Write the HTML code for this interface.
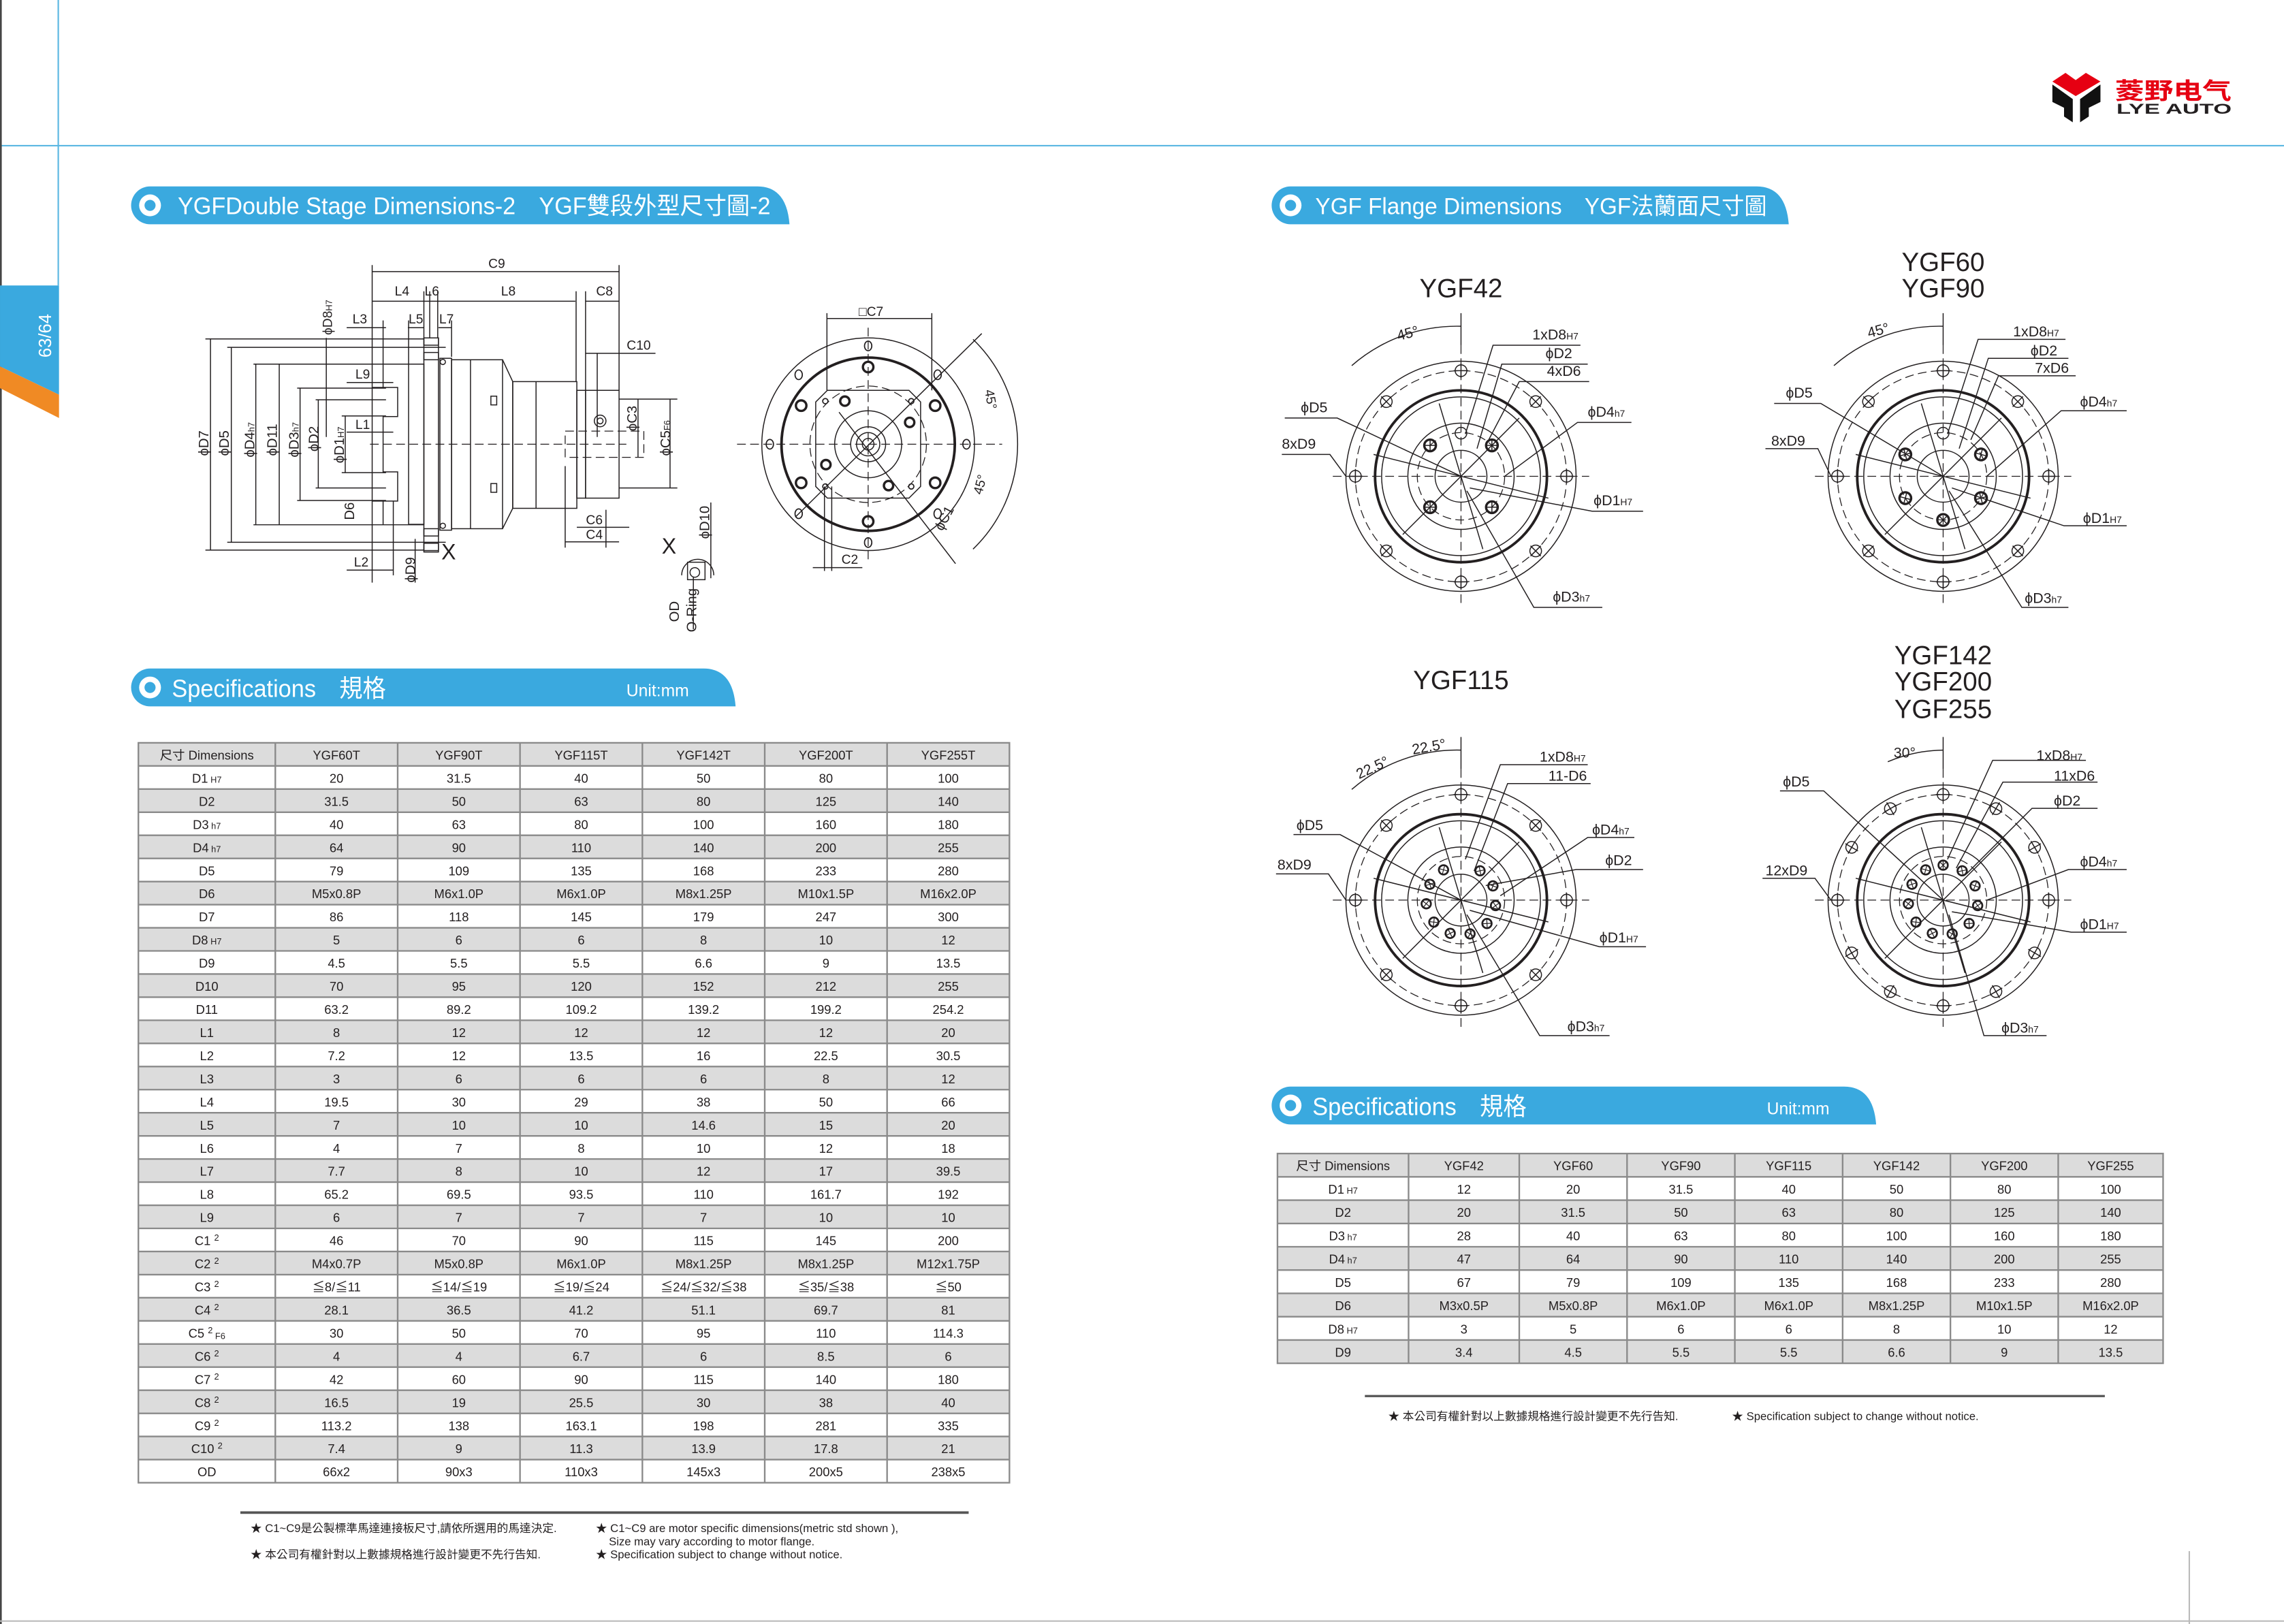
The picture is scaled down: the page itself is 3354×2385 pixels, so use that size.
<!DOCTYPE html>
<html><head><meta charset="utf-8"><style>
html,body{margin:0;padding:0;background:#fff;}
svg{display:block;}
text{font-family:"Liberation Sans","Noto Sans CJK TC",sans-serif;fill:#231f20;}
.t{font-size:8.6px;text-anchor:middle;}
.w{fill:#fff;}
.d{font-size:9px;}
.ln{stroke:#231f20;stroke-width:0.7;fill:none;}
.dash{stroke:#231f20;stroke-width:0.6;fill:none;stroke-dasharray:6 3;}
.thk{stroke:#231f20;stroke-width:1.8;fill:none;}
</style></head><body>
<svg width="3354" height="2385" viewBox="0 0 1568 1115" xmlns="http://www.w3.org/2000/svg">
<defs>
<pattern id="hat" width="3" height="3" patternUnits="userSpaceOnUse" patternTransform="rotate(45)"><line x1="0" y1="0" x2="0" y2="3" stroke="#231f20" stroke-width="0.6"/></pattern>
<g id="oh"><circle cx="0" cy="-72.5" r="4" class="ln" stroke-width="0.9"/><line x1="-5" y1="-72.5" x2="5" y2="-72.5" class="ln"/><line x1="0" y1="-77.5" x2="0" y2="-67.5" class="ln"/></g>
<g id="ih"><circle cx="0" cy="-30" r="4" fill="none" stroke="#231f20" stroke-width="1.6"/><line x1="-2.8" y1="-32.8" x2="2.8" y2="-27.2" class="ln"/><line x1="2.8" y1="-32.8" x2="-2.8" y2="-27.2" class="ln"/></g>
<g id="fb">
<circle r="79" class="ln" stroke-width="0.8"/>
<circle r="72.5" class="dash"/>
<circle r="59" class="thk" stroke-width="1.6"/>
<circle r="54.5" class="ln" stroke-width="1.1"/>
<circle r="36.5" class="ln" stroke-width="0.9"/>
<circle r="30" class="dash"/>
<circle r="17.8" class="ln" stroke-width="0.9"/>
<line x1="-88" y1="0" x2="88" y2="0" class="dash"/>
<line x1="0" y1="-90" x2="0" y2="88" class="dash"/>
<line x1="-60" y1="-15" x2="60" y2="15" class="ln" stroke-width="0.5"/>
<line x1="-40" y1="40" x2="40" y2="-40" class="ln" stroke-width="0.5"/>
<line x1="-15" y1="-50" x2="15" y2="50" class="ln" stroke-width="0.5"/>
</g>
</defs>

<line x1="0" y1="100" x2="1568" y2="100" stroke="#5ab7e2" stroke-width="1"/>
<line x1="40" y1="0" x2="40" y2="196" stroke="#5ab7e2" stroke-width="1"/>
<line x1="0.6" y1="0" x2="0.6" y2="1115" stroke="#444" stroke-width="1.2"/>
<line x1="0" y1="1113" x2="1568" y2="1113" stroke="#bbb" stroke-width="1"/>
<line x1="1503" y1="1065" x2="1503" y2="1115" stroke="#bbb" stroke-width="1"/>
<polygon points="0,196 40.5,196 40.5,271 0,251.6" fill="#3aa9df"/>
<polygon points="0,251.6 40.5,271 40.5,287 0,266.5" fill="#f08a24"/>
<text transform="translate(35,230.5) rotate(-90)" class="w" style="font-size:12px;text-anchor:middle;">63/64</text>

<polygon points="1409,56 1418,50 1425,55 1432,50 1442,56 1425,66" fill="#e60012"/>
<polygon points="1409,58 1423,68 1423,84 1417,80 1417,74 1409,70" fill="#111"/>
<polygon points="1442,58 1428,68 1428,84 1434,80 1434,74 1442,70" fill="#111"/>
<text x="1452" y="68" textLength="80" lengthAdjust="spacingAndGlyphs" style="font-size:16px;fill:#e60012;font-weight:bold;font-family:'Noto Sans CJK SC',sans-serif;">菱野电气</text>
<text x="1453" y="78" textLength="79" lengthAdjust="spacingAndGlyphs" style="font-size:10px;font-weight:bold;">LYE AUTO</text>

<path d="M103,128 H520 Q540,128 542,154 H103 A13,13 0 0 1 103,128 Z" fill="#3aa9df"/>
<circle cx="103" cy="141" r="7.5" fill="#fff"/><circle cx="103" cy="141" r="3.8" fill="#3aa9df"/>
<text x="122" y="147" class="w" textLength="407" lengthAdjust="spacingAndGlyphs" style="font-size:16.5px;">YGFDouble Stage Dimensions-2　YGF雙段外型尺寸圖-2</text>

<path d="M103,459 H483 Q503,459 505,485 H103 A13,13 0 0 1 103,459 Z" fill="#3aa9df"/>
<circle cx="103" cy="472" r="7.5" fill="#fff"/><circle cx="103" cy="472" r="3.8" fill="#3aa9df"/>
<text x="118" y="478.5" class="w" textLength="147" lengthAdjust="spacingAndGlyphs" style="font-size:17px;">Specifications　規格</text>
<text x="430" y="478" class="w" textLength="43" lengthAdjust="spacingAndGlyphs" style="font-size:11.5px;">Unit:mm</text>

<path d="M886,128 H1206 Q1226,128 1228,154 H886 A13,13 0 0 1 886,128 Z" fill="#3aa9df"/>
<circle cx="886" cy="141" r="7.5" fill="#fff"/><circle cx="886" cy="141" r="3.8" fill="#3aa9df"/>
<text x="903" y="147" class="w" textLength="310" lengthAdjust="spacingAndGlyphs" style="font-size:16px;">YGF Flange Dimensions　YGF法蘭面尺寸圖</text>

<path d="M886,746 H1266 Q1286,746 1288,772 H886 A13,13 0 0 1 886,746 Z" fill="#3aa9df"/>
<circle cx="886" cy="759" r="7.5" fill="#fff"/><circle cx="886" cy="759" r="3.8" fill="#3aa9df"/>
<text x="901" y="765.5" class="w" textLength="147" lengthAdjust="spacingAndGlyphs" style="font-size:17px;">Specifications　規格</text>
<text x="1213" y="765" class="w" textLength="43" lengthAdjust="spacingAndGlyphs" style="font-size:11.5px;">Unit:mm</text>

<!-- SIDE VIEW -->
<g>
<line x1="255.5" y1="186.5" x2="425" y2="186.5" class="ln"/>
<text x="341" y="184" class="d" text-anchor="middle">C9</text>
<line x1="255.5" y1="182" x2="255.5" y2="400" class="ln"/>
<line x1="425" y1="182" x2="425" y2="268" class="ln"/>
<line x1="255.5" y1="206.8" x2="395" y2="206.8" class="ln"/>
<line x1="402" y1="206.8" x2="425" y2="206.8" class="ln"/>
<line x1="395.5" y1="200" x2="395.5" y2="262" class="ln"/>
<line x1="402" y1="200" x2="402" y2="268" class="ln"/>
<line x1="291" y1="200" x2="291" y2="232" class="ln"/>
<line x1="295" y1="200" x2="295" y2="232" class="ln"/>
<line x1="300.5" y1="200" x2="300.5" y2="232" class="ln"/>
<text x="276" y="203" class="d" text-anchor="middle">L4</text>
<text x="296.5" y="203" class="d" text-anchor="middle">L6</text>
<text x="349" y="203" class="d" text-anchor="middle">L8</text>
<text x="415" y="203" class="d" text-anchor="middle">C8</text>
<line x1="238" y1="225" x2="265" y2="225" class="ln"/>
<line x1="280" y1="225" x2="291" y2="225" class="ln"/>
<line x1="301" y1="225" x2="310" y2="225" class="ln"/>
<line x1="263" y1="220" x2="263" y2="250" class="ln"/>
<line x1="280.5" y1="220" x2="280.5" y2="250" class="ln"/>
<line x1="310" y1="220" x2="310" y2="245" class="ln"/>
<text x="247" y="222" class="d" text-anchor="middle">L3</text>
<text x="285.5" y="222" class="d" text-anchor="middle">L5</text>
<text x="306.5" y="222" class="d" text-anchor="middle">L7</text>
<text transform="translate(228,230) rotate(-90)" style="font-size:9px;">ϕD8<tspan style="font-size:6px;">H7</tspan></text>
<line x1="224" y1="232" x2="224" y2="300" class="ln"/>
<line x1="141" y1="232.7" x2="291" y2="232.7" class="ln"/>
<line x1="141" y1="377.7" x2="291" y2="377.7" class="ln"/>
<line x1="144.5" y1="232.7" x2="144.5" y2="377.7" class="ln"/>
<line x1="156" y1="238.5" x2="306" y2="238.5" class="ln"/>
<line x1="156" y1="372.3" x2="306" y2="372.3" class="ln"/>
<line x1="158.8" y1="238.5" x2="158.8" y2="372.3" class="ln"/>
<line x1="174" y1="250" x2="291" y2="250" class="ln"/>
<line x1="174" y1="360.3" x2="291" y2="360.3" class="ln"/>
<line x1="175.6" y1="250" x2="175.6" y2="360.3" class="ln"/>
<line x1="191.7" y1="250" x2="191.7" y2="360.3" class="ln"/>
<line x1="204" y1="266.5" x2="265" y2="266.5" class="ln"/>
<line x1="204" y1="343.6" x2="265" y2="343.6" class="ln"/>
<line x1="206" y1="266.5" x2="206" y2="343.6" class="ln"/>
<line x1="216.7" y1="274.5" x2="265" y2="274.5" class="ln"/>
<line x1="216.7" y1="335" x2="265" y2="335" class="ln"/>
<line x1="218.5" y1="274.5" x2="218.5" y2="335" class="ln"/>
<line x1="234.6" y1="285.6" x2="265" y2="285.6" class="ln"/>
<line x1="234.6" y1="324.5" x2="265" y2="324.5" class="ln"/>
<line x1="237" y1="285.6" x2="237" y2="324.5" class="ln"/>
<text transform="translate(143,313) rotate(-90)" style="font-size:9.5px;">ϕD7</text>
<text transform="translate(157,313) rotate(-90)" style="font-size:9.5px;">ϕD5</text>
<text transform="translate(174.5,314) rotate(-90)" style="font-size:9.5px;">ϕD4<tspan style="font-size:6px;">h7</tspan></text>
<text transform="translate(190,313) rotate(-90)" style="font-size:9.5px;">ϕD11</text>
<text transform="translate(205,314) rotate(-90)" style="font-size:9.5px;">ϕD3<tspan style="font-size:6px;">h7</tspan></text>
<text transform="translate(218.5,310) rotate(-90)" style="font-size:9.5px;">ϕD2</text>
<text transform="translate(236,318) rotate(-90)" style="font-size:9.5px;">ϕD1<tspan style="font-size:6px;">H7</tspan></text>
<rect x="291" y="232" width="10" height="147" fill="#fff" class="ln" stroke-width="0.9"/>
<rect x="291" y="232" width="10" height="5" fill="url(#hat)" class="ln"/>
<rect x="291" y="242" width="10" height="5" fill="url(#hat)" class="ln"/>
<rect x="291" y="363" width="10" height="5" fill="url(#hat)" class="ln"/>
<rect x="291" y="373" width="10" height="5" fill="url(#hat)" class="ln"/>
<rect x="280.5" y="250" width="10.5" height="110" fill="#fff" class="ln" stroke-width="0.9"/>
<path d="M255.5,266 H273 V286 H263 V324 H273 V344 H255.5" fill="url(#hat)" class="ln" stroke-width="0.9"/>
<line x1="263" y1="250" x2="263" y2="266" class="ln"/>
<line x1="263" y1="344" x2="263" y2="360" class="ln"/>
<rect x="302" y="246" width="8" height="118" fill="#fff" class="ln" stroke-width="0.9"/>
<circle cx="304" cy="248.5" r="1.8" class="ln" fill="url(#hat)"/>
<circle cx="304" cy="361" r="1.8" class="ln" fill="url(#hat)"/>
<rect x="310" y="247" width="35" height="116" fill="#fff" class="ln" stroke-width="0.9"/>
<line x1="323" y1="247" x2="323" y2="363" class="ln"/>
<path d="M345,247 L352,262 V349 L345,363" class="ln" stroke-width="0.9"/>
<rect x="352" y="262" width="44" height="87" fill="#fff" class="ln" stroke-width="0.9"/>
<line x1="368" y1="262" x2="368" y2="349" class="ln"/>
<rect x="337" y="272" width="4" height="6" class="ln"/>
<rect x="337" y="332" width="4" height="6" class="ln"/>
<rect x="396" y="268" width="6" height="74" fill="#fff" class="ln" stroke-width="0.9"/>
<rect x="402" y="268" width="23" height="74" fill="#fff" class="ln" stroke-width="0.9"/>
<circle cx="412" cy="289" r="4" class="ln" stroke-width="1.5"/>
<circle cx="412" cy="289" r="2" class="ln"/>
<rect x="388" y="296" width="54" height="18" class="dash"/>
<line x1="254" y1="305" x2="430" y2="305" class="dash"/>
<line x1="402" y1="242.6" x2="450" y2="242.6" class="ln"/>
<text x="438.5" y="240" class="d" text-anchor="middle">C10</text>
<line x1="410" y1="242.6" x2="410" y2="300" class="ln"/>
<line x1="438" y1="274" x2="438" y2="314" class="ln"/>
<line x1="425" y1="274" x2="465" y2="274" class="ln"/>
<line x1="460" y1="274" x2="460" y2="335" class="ln"/>
<line x1="425" y1="335" x2="465" y2="335" class="ln"/>
<text transform="translate(437,296) rotate(-90)" style="font-size:9.5px;">ϕC3</text>
<text transform="translate(460,313) rotate(-90)" style="font-size:9.5px;">ϕC5<tspan style="font-size:6px;">F6</tspan></text>
<line x1="388" y1="320" x2="388" y2="376" class="ln"/>
<line x1="416" y1="350" x2="416" y2="376" class="ln"/>
<line x1="396" y1="362" x2="432" y2="362" class="ln"/>
<line x1="388" y1="372" x2="425" y2="372" class="ln"/>
<text x="408" y="360" class="d" text-anchor="middle">C6</text>
<text x="408" y="370" class="d" text-anchor="middle">C4</text>
<text x="308" y="384" style="font-size:15px;" text-anchor="middle">X</text>
<line x1="238" y1="391.4" x2="270" y2="391.4" class="ln"/>
<line x1="270" y1="344" x2="270" y2="395" class="ln"/>
<text x="248" y="389" class="d" text-anchor="middle">L2</text>
<line x1="285" y1="370" x2="285" y2="400" class="ln"/>
<text transform="translate(285,400) rotate(-90)" style="font-size:9.5px;">ϕD9</text>
<line x1="238" y1="262.6" x2="270" y2="262.6" class="ln"/>
<text x="249" y="260" class="d" text-anchor="middle">L9</text>
<line x1="238" y1="296.7" x2="270" y2="296.7" class="ln"/>
<text x="249" y="294.5" class="d" text-anchor="middle">L1</text>
<text transform="translate(243,357) rotate(-90)" style="font-size:9.5px;">D6</text>
<text x="459.3" y="380" style="font-size:15px;" text-anchor="middle">X</text>
<path d="M468,395 A11,11 0 0 1 490,395" class="ln"/>
<rect x="472" y="386" width="12" height="12" fill="#fff" class="ln"/>
<circle cx="477" cy="393" r="3.3" fill="url(#hat)" class="ln"/>
<line x1="488" y1="345" x2="488" y2="397" class="ln"/>
<text transform="translate(487,370) rotate(-90)" style="font-size:9.5px;">ϕD10</text>
<line x1="476" y1="396" x2="476" y2="432" class="ln"/>
<text transform="translate(466,427) rotate(-90)" style="font-size:9.5px;">OD</text>
<text transform="translate(478,434) rotate(-90)" style="font-size:9.5px;">O-Ring</text>
</g>

<!-- FRONT VIEW -->
<g transform="translate(596,305)">
<circle r="73" class="ln" stroke-width="0.9"/>
<circle r="59.5" class="thk" stroke-width="2"/>
<path d="M-28,-37 H28 L36,-29 V29 L28,37 H-28 L-36,29 V-29 Z" class="ln" stroke-width="1"/>
<circle r="40" class="dash"/>
<circle r="23" class="ln" stroke-width="1.2"/>
<circle r="12" class="ln" stroke-width="1"/>
<circle r="8" class="ln" stroke-width="2"/>
<circle r="4" class="ln"/>
<line x1="-90" y1="0" x2="92" y2="0" class="dash"/>
<line x1="0" y1="-80" x2="0" y2="80" class="dash"/>
<line x1="-50" y1="50" x2="78" y2="-76" class="ln" stroke-width="0.5"/>
<line x1="-20" y1="-22" x2="60" y2="82" class="ln" stroke-width="0.5"/>
<path d="M72,-72 A100,100 0 0 1 72,72" class="ln" stroke-width="0.6"/>
<g fill="none" stroke="#231f20" stroke-width="0.8">
<ellipse cx="0" cy="-67.5" rx="2.5" ry="3.3"/><ellipse cx="0" cy="67.5" rx="2.5" ry="3.3"/>
<ellipse cx="-67.5" cy="0" rx="2.5" ry="3.3"/><ellipse cx="67.5" cy="0" rx="2.5" ry="3.3"/>
<ellipse cx="-47.7" cy="-47.7" rx="2.5" ry="3.3"/><ellipse cx="47.7" cy="-47.7" rx="2.5" ry="3.3"/>
<ellipse cx="-47.7" cy="47.7" rx="2.5" ry="3.3"/><ellipse cx="47.7" cy="47.7" rx="2.5" ry="3.3"/>
</g>
<g fill="none" stroke="#231f20" stroke-width="1.6">
<circle cx="0" cy="-53" r="3.6"/><circle cx="0" cy="53" r="3.6"/>
<circle cx="-46" cy="-26.5" r="3.6"/><circle cx="46" cy="-26.5" r="3.6"/>
<circle cx="-46" cy="26.5" r="3.6"/><circle cx="46" cy="26.5" r="3.6"/>
<circle cx="-16" cy="-29.6" r="3.2"/><circle cx="28.5" cy="-15" r="3.2"/>
<circle cx="-29" cy="14" r="3.2"/><circle cx="14" cy="28.4" r="3.2"/>
</g>
<g fill="none" stroke="#231f20" stroke-width="0.8">
<circle cx="-29.4" cy="-29.6" r="1.8"/><circle cx="29.6" cy="-29.6" r="1.8"/>
<circle cx="-29.4" cy="29" r="1.8"/><circle cx="29.6" cy="29" r="1.8"/>
</g>
</g>
<line x1="567.7" y1="218.7" x2="639.7" y2="218.7" class="ln"/>
<line x1="567.7" y1="215" x2="567.7" y2="268" class="ln"/>
<line x1="639.7" y1="215" x2="639.7" y2="268" class="ln"/>
<text x="598" y="217" class="d" text-anchor="middle">□C7</text>
<text transform="translate(676,268) rotate(80)" style="font-size:9px;">45°</text>
<text transform="translate(674,340) rotate(-75)" style="font-size:9px;">45°</text>
<text transform="translate(647,365) rotate(-62)" style="font-size:9.5px;">ϕC1</text>
<line x1="566" y1="334" x2="566" y2="392" class="ln"/>
<line x1="571" y1="334" x2="571" y2="392" class="ln"/>
<line x1="558" y1="389.7" x2="592" y2="389.7" class="ln"/>
<text x="583.4" y="387" class="d" text-anchor="middle">C2</text>

<!-- FLANGES -->
<text x="1003" y="204" style="font-size:18px;" text-anchor="middle">YGF42</text>
<g transform="translate(1003,327)">
<use href="#fb"/>
<use href="#oh"/><use href="#oh" transform="rotate(45)"/><use href="#oh" transform="rotate(90)"/><use href="#oh" transform="rotate(135)"/>
<use href="#oh" transform="rotate(180)"/><use href="#oh" transform="rotate(225)"/><use href="#oh" transform="rotate(270)"/><use href="#oh" transform="rotate(315)"/>
<use href="#ih" transform="rotate(45)"/><use href="#ih" transform="rotate(135)"/><use href="#ih" transform="rotate(225)"/><use href="#ih" transform="rotate(315)"/>
<circle cx="0" cy="-29.6" r="4" class="ln"/>
<path d="M-75,-76 A110,110 0 0 1 0,-103" class="ln"/>
<line x1="0" y1="-112" x2="0" y2="-90" class="ln"/>
</g>
<text x="960" y="234" transform="rotate(-15 960 234)" style="font-size:10px;">45°</text>
<g class="ln"><polyline points="1006,298 1025,237 1085,237"/><polyline points="1014,308 1031,250 1090,250"/><polyline points="1022,302 1043,262 1091,262"/>
<polyline points="882,287 918,287 1003,327"/><polyline points="880,312 913,312 924,327"/>
<polyline points="1033,327 1083,290 1120,290"/><polyline points="1009,335 1093,351 1128,351"/><polyline points="1007,337 1053,417 1100,417"/></g>
<text x="1052" y="233" style="font-size:10px;">1xD8<tspan style="font-size:6.5px;">H7</tspan></text>
<text x="1061" y="246" style="font-size:10px;">ϕD2</text>
<text x="1062" y="258" style="font-size:10px;">4xD6</text>
<text x="893" y="283" style="font-size:10px;">ϕD5</text>
<text x="880" y="308" style="font-size:10px;">8xD9</text>
<text x="1090" y="286" style="font-size:10px;">ϕD4<tspan style="font-size:6.5px;">h7</tspan></text>
<text x="1094" y="347" style="font-size:10px;">ϕD1<tspan style="font-size:6.5px;">H7</tspan></text>
<text x="1066" y="413" style="font-size:10px;">ϕD3<tspan style="font-size:6.5px;">h7</tspan></text>

<text x="1334" y="186" style="font-size:18px;" text-anchor="middle">YGF60</text>
<text x="1334" y="204" style="font-size:18px;" text-anchor="middle">YGF90</text>
<g transform="translate(1334,327)">
<use href="#fb"/>
<use href="#oh"/><use href="#oh" transform="rotate(45)"/><use href="#oh" transform="rotate(90)"/><use href="#oh" transform="rotate(135)"/>
<use href="#oh" transform="rotate(180)"/><use href="#oh" transform="rotate(225)"/><use href="#oh" transform="rotate(270)"/><use href="#oh" transform="rotate(315)"/>
<use href="#ih" transform="rotate(60)"/><use href="#ih" transform="rotate(120)"/><use href="#ih" transform="rotate(180)"/><use href="#ih" transform="rotate(240)"/><use href="#ih" transform="rotate(300)"/>
<circle cx="0" cy="-29.6" r="4" class="ln"/>
<path d="M-75,-76 A110,110 0 0 1 0,-103" class="ln"/>
<line x1="0" y1="-112" x2="0" y2="-90" class="ln"/>
</g>
<text x="1283" y="232" transform="rotate(-15 1283 232)" style="font-size:10px;">45°</text>
<g class="ln"><polyline points="1337,298 1358,233 1418,233"/><polyline points="1345,308 1365,246 1420,246"/><polyline points="1353,302 1372,258 1425,258"/>
<polyline points="1218,277 1250,277 1334,327"/><polyline points="1212,308 1248,308 1257,327"/>
<polyline points="1364,327 1415,282 1460,282"/><polyline points="1340,335 1417,361 1460,361"/><polyline points="1338,337 1388,417 1420,417"/></g>
<text x="1382" y="231" style="font-size:10px;">1xD8<tspan style="font-size:6.5px;">H7</tspan></text>
<text x="1394" y="244" style="font-size:10px;">ϕD2</text>
<text x="1397" y="256" style="font-size:10px;">7xD6</text>
<text x="1226" y="273" style="font-size:10px;">ϕD5</text>
<text x="1216" y="306" style="font-size:10px;">8xD9</text>
<text x="1428" y="279" style="font-size:10px;">ϕD4<tspan style="font-size:6.5px;">h7</tspan></text>
<text x="1430" y="359" style="font-size:10px;">ϕD1<tspan style="font-size:6.5px;">H7</tspan></text>
<text x="1390" y="414" style="font-size:10px;">ϕD3<tspan style="font-size:6.5px;">h7</tspan></text>

<text x="1003" y="473" style="font-size:18px;" text-anchor="middle">YGF115</text>
<g transform="translate(1003,618)">
<use href="#fb"/>
<use href="#oh"/><use href="#oh" transform="rotate(45)"/><use href="#oh" transform="rotate(90)"/><use href="#oh" transform="rotate(135)"/>
<use href="#oh" transform="rotate(180)"/><use href="#oh" transform="rotate(225)"/><use href="#oh" transform="rotate(270)"/><use href="#oh" transform="rotate(315)"/>
<g transform="scale(0.8)"><use href="#ih" transform="rotate(33)"/><use href="#ih" transform="rotate(66)"/><use href="#ih" transform="rotate(99)"/><use href="#ih" transform="rotate(132)"/><use href="#ih" transform="rotate(165)"/><use href="#ih" transform="rotate(198)"/><use href="#ih" transform="rotate(231)"/><use href="#ih" transform="rotate(264)"/><use href="#ih" transform="rotate(297)"/><use href="#ih" transform="rotate(330)"/></g>
<path d="M-75,-76 A110,110 0 0 1 0,-103" class="ln"/>
<line x1="0" y1="-112" x2="0" y2="-90" class="ln"/>
</g>
<text x="933" y="535" transform="rotate(-25 933 535)" style="font-size:10px;">22.5°</text>
<text x="970" y="518" transform="rotate(-10 970 518)" style="font-size:10px;">22.5°</text>
<g class="ln"><polyline points="1006,590 1030,525 1090,525"/><polyline points="1012,598 1035,538 1092,538"/>
<polyline points="888,573 920,573 1003,618"/><polyline points="876,600 912,600 924,618"/>
<polyline points="1030,615 1090,575 1122,575"/><polyline points="1020,608 1082,597 1128,597"/><polyline points="1009,625 1098,650 1130,650"/><polyline points="1007,628 1057,711 1105,711"/></g>
<text x="1057" y="523" style="font-size:10px;">1xD8<tspan style="font-size:6.5px;">H7</tspan></text>
<text x="1063" y="536" style="font-size:10px;">11-D6</text>
<text x="890" y="570" style="font-size:10px;">ϕD5</text>
<text x="877" y="597" style="font-size:10px;">8xD9</text>
<text x="1093" y="573" style="font-size:10px;">ϕD4<tspan style="font-size:6.5px;">h7</tspan></text>
<text x="1102" y="594" style="font-size:10px;">ϕD2</text>
<text x="1098" y="647" style="font-size:10px;">ϕD1<tspan style="font-size:6.5px;">H7</tspan></text>
<text x="1076" y="708" style="font-size:10px;">ϕD3<tspan style="font-size:6.5px;">h7</tspan></text>

<text x="1334" y="456" style="font-size:18px;" text-anchor="middle">YGF142</text>
<text x="1334" y="474" style="font-size:18px;" text-anchor="middle">YGF200</text>
<text x="1334" y="493" style="font-size:18px;" text-anchor="middle">YGF255</text>
<g transform="translate(1334,618)">
<use href="#fb"/>
<use href="#oh"/><use href="#oh" transform="rotate(30)"/><use href="#oh" transform="rotate(60)"/><use href="#oh" transform="rotate(90)"/>
<use href="#oh" transform="rotate(120)"/><use href="#oh" transform="rotate(150)"/><use href="#oh" transform="rotate(180)"/><use href="#oh" transform="rotate(210)"/>
<use href="#oh" transform="rotate(240)"/><use href="#oh" transform="rotate(270)"/><use href="#oh" transform="rotate(300)"/><use href="#oh" transform="rotate(330)"/>
<g transform="scale(0.8)"><use href="#ih" transform="rotate(33)"/><use href="#ih" transform="rotate(66)"/><use href="#ih" transform="rotate(99)"/><use href="#ih" transform="rotate(132)"/><use href="#ih" transform="rotate(165)"/><use href="#ih" transform="rotate(198)"/><use href="#ih" transform="rotate(231)"/><use href="#ih" transform="rotate(264)"/><use href="#ih" transform="rotate(297)"/><use href="#ih" transform="rotate(330)"/><use href="#ih"/></g>
<path d="M-38,-95 A100,100 0 0 1 0,-103" class="ln"/>
<line x1="0" y1="-112" x2="0" y2="-90" class="ln"/>
</g>
<text x="1300" y="520" style="font-size:10px;">30°</text>
<g class="ln"><polyline points="1337,590 1368,522 1432,522"/><polyline points="1343,596 1375,537 1440,537"/><polyline points="1350,600 1395,555 1440,555"/>
<polyline points="1222,543 1252,543 1334,618"/><polyline points="1210,603 1246,603 1257,618"/>
<polyline points="1364,618 1420,597 1460,597"/><polyline points="1340,626 1422,640 1460,640"/><polyline points="1338,628 1362,711 1405,711"/></g>
<text x="1398" y="522" style="font-size:10px;">1xD8<tspan style="font-size:6.5px;">H7</tspan></text>
<text x="1410" y="536" style="font-size:10px;">11xD6</text>
<text x="1410" y="553" style="font-size:10px;">ϕD2</text>
<text x="1224" y="540" style="font-size:10px;">ϕD5</text>
<text x="1212" y="601" style="font-size:10px;">12xD9</text>
<text x="1428" y="595" style="font-size:10px;">ϕD4<tspan style="font-size:6.5px;">h7</tspan></text>
<text x="1428" y="638" style="font-size:10px;">ϕD1<tspan style="font-size:6.5px;">H7</tspan></text>
<text x="1374" y="709" style="font-size:10px;">ϕD3<tspan style="font-size:6.5px;">h7</tspan></text>

<!-- LEFT TABLE -->
<g fill="#dcdcdc">
<rect x="95" y="510" width="598" height="15.875"/>
<rect x="95" y="541.75" width="598" height="15.875"/><rect x="95" y="573.5" width="598" height="15.875"/>
<rect x="95" y="605.25" width="598" height="15.875"/><rect x="95" y="637" width="598" height="15.875"/>
<rect x="95" y="668.75" width="598" height="15.875"/><rect x="95" y="700.5" width="598" height="15.875"/>
<rect x="95" y="732.25" width="598" height="15.875"/><rect x="95" y="764" width="598" height="15.875"/>
<rect x="95" y="795.75" width="598" height="15.875"/><rect x="95" y="827.5" width="598" height="15.875"/>
<rect x="95" y="859.25" width="598" height="15.875"/><rect x="95" y="891" width="598" height="15.875"/>
<rect x="95" y="922.75" width="598" height="15.875"/><rect x="95" y="954.5" width="598" height="15.875"/>
<rect x="95" y="986.25" width="598" height="15.875"/>
</g>
<g stroke="#8a8a8a" stroke-width="1.1">
<rect x="95" y="510" width="598" height="508" fill="none"/>
<line x1="189" y1="510" x2="189" y2="1018"/><line x1="273" y1="510" x2="273" y2="1018"/><line x1="357" y1="510" x2="357" y2="1018"/>
<line x1="441" y1="510" x2="441" y2="1018"/><line x1="525" y1="510" x2="525" y2="1018"/><line x1="609" y1="510" x2="609" y2="1018"/>
<path d="M95,525.875H693M95,541.75H693M95,557.625H693M95,573.5H693M95,589.375H693M95,605.25H693M95,621.125H693M95,637H693M95,652.875H693M95,668.75H693M95,684.625H693M95,700.5H693M95,716.375H693M95,732.25H693M95,748.125H693M95,764H693M95,779.875H693M95,795.75H693M95,811.625H693M95,827.5H693M95,843.375H693M95,859.25H693M95,875.125H693M95,891H693M95,906.875H693M95,922.75H693M95,938.625H693M95,954.5H693M95,970.375H693M95,986.25H693M95,1002.125H693"/>
</g>
<g class="t">
<text x="142" y="521.5">尺寸 Dimensions</text><text x="231" y="521.5">YGF60T</text><text x="315" y="521.5">YGF90T</text><text x="399" y="521.5">YGF115T</text><text x="483" y="521.5">YGF142T</text><text x="567" y="521.5">YGF200T</text><text x="651" y="521.5">YGF255T</text>
<text x="142" y="537.4">D1<tspan style="font-size:6px;"> H7</tspan></text><text x="231" y="537.4">20</text><text x="315" y="537.4">31.5</text><text x="399" y="537.4">40</text><text x="483" y="537.4">50</text><text x="567" y="537.4">80</text><text x="651" y="537.4">100</text>
<text x="142" y="553.2">D2</text><text x="231" y="553.2">31.5</text><text x="315" y="553.2">50</text><text x="399" y="553.2">63</text><text x="483" y="553.2">80</text><text x="567" y="553.2">125</text><text x="651" y="553.2">140</text>
<text x="142" y="569.1">D3<tspan style="font-size:6px;"> h7</tspan></text><text x="231" y="569.1">40</text><text x="315" y="569.1">63</text><text x="399" y="569.1">80</text><text x="483" y="569.1">100</text><text x="567" y="569.1">160</text><text x="651" y="569.1">180</text>
<text x="142" y="585">D4<tspan style="font-size:6px;"> h7</tspan></text><text x="231" y="585">64</text><text x="315" y="585">90</text><text x="399" y="585">110</text><text x="483" y="585">140</text><text x="567" y="585">200</text><text x="651" y="585">255</text>
<text x="142" y="600.9">D5</text><text x="231" y="600.9">79</text><text x="315" y="600.9">109</text><text x="399" y="600.9">135</text><text x="483" y="600.9">168</text><text x="567" y="600.9">233</text><text x="651" y="600.9">280</text>
<text x="142" y="616.7">D6</text><text x="231" y="616.7">M5x0.8P</text><text x="315" y="616.7">M6x1.0P</text><text x="399" y="616.7">M6x1.0P</text><text x="483" y="616.7">M8x1.25P</text><text x="567" y="616.7">M10x1.5P</text><text x="651" y="616.7">M16x2.0P</text>
<text x="142" y="632.6">D7</text><text x="231" y="632.6">86</text><text x="315" y="632.6">118</text><text x="399" y="632.6">145</text><text x="483" y="632.6">179</text><text x="567" y="632.6">247</text><text x="651" y="632.6">300</text>
<text x="142" y="648.5">D8<tspan style="font-size:6px;"> H7</tspan></text><text x="231" y="648.5">5</text><text x="315" y="648.5">6</text><text x="399" y="648.5">6</text><text x="483" y="648.5">8</text><text x="567" y="648.5">10</text><text x="651" y="648.5">12</text>
<text x="142" y="664.4">D9</text><text x="231" y="664.4">4.5</text><text x="315" y="664.4">5.5</text><text x="399" y="664.4">5.5</text><text x="483" y="664.4">6.6</text><text x="567" y="664.4">9</text><text x="651" y="664.4">13.5</text>
<text x="142" y="680.2">D10</text><text x="231" y="680.2">70</text><text x="315" y="680.2">95</text><text x="399" y="680.2">120</text><text x="483" y="680.2">152</text><text x="567" y="680.2">212</text><text x="651" y="680.2">255</text>
<text x="142" y="696.1">D11</text><text x="231" y="696.1">63.2</text><text x="315" y="696.1">89.2</text><text x="399" y="696.1">109.2</text><text x="483" y="696.1">139.2</text><text x="567" y="696.1">199.2</text><text x="651" y="696.1">254.2</text>
<text x="142" y="712">L1</text><text x="231" y="712">8</text><text x="315" y="712">12</text><text x="399" y="712">12</text><text x="483" y="712">12</text><text x="567" y="712">12</text><text x="651" y="712">20</text>
<text x="142" y="727.9">L2</text><text x="231" y="727.9">7.2</text><text x="315" y="727.9">12</text><text x="399" y="727.9">13.5</text><text x="483" y="727.9">16</text><text x="567" y="727.9">22.5</text><text x="651" y="727.9">30.5</text>
<text x="142" y="743.7">L3</text><text x="231" y="743.7">3</text><text x="315" y="743.7">6</text><text x="399" y="743.7">6</text><text x="483" y="743.7">6</text><text x="567" y="743.7">8</text><text x="651" y="743.7">12</text>
<text x="142" y="759.6">L4</text><text x="231" y="759.6">19.5</text><text x="315" y="759.6">30</text><text x="399" y="759.6">29</text><text x="483" y="759.6">38</text><text x="567" y="759.6">50</text><text x="651" y="759.6">66</text>
<text x="142" y="775.5">L5</text><text x="231" y="775.5">7</text><text x="315" y="775.5">10</text><text x="399" y="775.5">10</text><text x="483" y="775.5">14.6</text><text x="567" y="775.5">15</text><text x="651" y="775.5">20</text>
<text x="142" y="791.4">L6</text><text x="231" y="791.4">4</text><text x="315" y="791.4">7</text><text x="399" y="791.4">8</text><text x="483" y="791.4">10</text><text x="567" y="791.4">12</text><text x="651" y="791.4">18</text>
<text x="142" y="807.2">L7</text><text x="231" y="807.2">7.7</text><text x="315" y="807.2">8</text><text x="399" y="807.2">10</text><text x="483" y="807.2">12</text><text x="567" y="807.2">17</text><text x="651" y="807.2">39.5</text>
<text x="142" y="823.1">L8</text><text x="231" y="823.1">65.2</text><text x="315" y="823.1">69.5</text><text x="399" y="823.1">93.5</text><text x="483" y="823.1">110</text><text x="567" y="823.1">161.7</text><text x="651" y="823.1">192</text>
<text x="142" y="839">L9</text><text x="231" y="839">6</text><text x="315" y="839">7</text><text x="399" y="839">7</text><text x="483" y="839">7</text><text x="567" y="839">10</text><text x="651" y="839">10</text>
<text x="142" y="854.9">C1 <tspan style="font-size:6px;" dy="-3">2</tspan></text><text x="231" y="854.9">46</text><text x="315" y="854.9">70</text><text x="399" y="854.9">90</text><text x="483" y="854.9">115</text><text x="567" y="854.9">145</text><text x="651" y="854.9">200</text>
<text x="142" y="870.7">C2 <tspan style="font-size:6px;" dy="-3">2</tspan></text><text x="231" y="870.7">M4x0.7P</text><text x="315" y="870.7">M5x0.8P</text><text x="399" y="870.7">M6x1.0P</text><text x="483" y="870.7">M8x1.25P</text><text x="567" y="870.7">M8x1.25P</text><text x="651" y="870.7">M12x1.75P</text>
<text x="142" y="886.6">C3 <tspan style="font-size:6px;" dy="-3">2</tspan></text><text x="231" y="886.6">≦8/≦11</text><text x="315" y="886.6">≦14/≦19</text><text x="399" y="886.6">≦19/≦24</text><text x="483" y="886.6">≦24/≦32/≦38</text><text x="567" y="886.6">≦35/≦38</text><text x="651" y="886.6">≦50</text>
<text x="142" y="902.5">C4 <tspan style="font-size:6px;" dy="-3">2</tspan></text><text x="231" y="902.5">28.1</text><text x="315" y="902.5">36.5</text><text x="399" y="902.5">41.2</text><text x="483" y="902.5">51.1</text><text x="567" y="902.5">69.7</text><text x="651" y="902.5">81</text>
<text x="142" y="918.4">C5 <tspan style="font-size:6px;" dy="-3">2</tspan><tspan style="font-size:6px;" dy="4"> F6</tspan></text><text x="231" y="918.4">30</text><text x="315" y="918.4">50</text><text x="399" y="918.4">70</text><text x="483" y="918.4">95</text><text x="567" y="918.4">110</text><text x="651" y="918.4">114.3</text>
<text x="142" y="934.2">C6 <tspan style="font-size:6px;" dy="-3">2</tspan></text><text x="231" y="934.2">4</text><text x="315" y="934.2">4</text><text x="399" y="934.2">6.7</text><text x="483" y="934.2">6</text><text x="567" y="934.2">8.5</text><text x="651" y="934.2">6</text>
<text x="142" y="950.1">C7 <tspan style="font-size:6px;" dy="-3">2</tspan></text><text x="231" y="950.1">42</text><text x="315" y="950.1">60</text><text x="399" y="950.1">90</text><text x="483" y="950.1">115</text><text x="567" y="950.1">140</text><text x="651" y="950.1">180</text>
<text x="142" y="966">C8 <tspan style="font-size:6px;" dy="-3">2</tspan></text><text x="231" y="966">16.5</text><text x="315" y="966">19</text><text x="399" y="966">25.5</text><text x="483" y="966">30</text><text x="567" y="966">38</text><text x="651" y="966">40</text>
<text x="142" y="981.9">C9 <tspan style="font-size:6px;" dy="-3">2</tspan></text><text x="231" y="981.9">113.2</text><text x="315" y="981.9">138</text><text x="399" y="981.9">163.1</text><text x="483" y="981.9">198</text><text x="567" y="981.9">281</text><text x="651" y="981.9">335</text>
<text x="142" y="997.7">C10 <tspan style="font-size:6px;" dy="-3">2</tspan></text><text x="231" y="997.7">7.4</text><text x="315" y="997.7">9</text><text x="399" y="997.7">11.3</text><text x="483" y="997.7">13.9</text><text x="567" y="997.7">17.8</text><text x="651" y="997.7">21</text>
<text x="142" y="1013.6">OD</text><text x="231" y="1013.6">66x2</text><text x="315" y="1013.6">90x3</text><text x="399" y="1013.6">110x3</text><text x="483" y="1013.6">145x3</text><text x="567" y="1013.6">200x5</text><text x="651" y="1013.6">238x5</text>
</g>

<line x1="165" y1="1038.5" x2="665" y2="1038.5" stroke="#555" stroke-width="1.8"/>
<g style="font-size:7.8px;">
<text x="172" y="1052">★ C1~C9是公製標準馬達連接板尺寸,請依所選用的馬達決定.</text>
<text x="172" y="1070">★ 本公司有權針對以上數據規格進行設計變更不先行告知.</text>
<text x="409" y="1052">★ C1~C9 are motor specific dimensions(metric std shown ),</text>
<text x="418" y="1061">Size may vary according to motor flange.</text>
<text x="409" y="1070">★ Specification subject to change without notice.</text>
</g>

<!-- RIGHT TABLE -->
<g fill="#dcdcdc">
<rect x="877" y="792" width="608" height="16"/>
<rect x="877" y="824" width="608" height="16"/>
<rect x="877" y="856" width="608" height="16"/>
<rect x="877" y="888" width="608" height="16"/>
<rect x="877" y="920" width="608" height="16"/>
</g>
<g stroke="#8a8a8a" stroke-width="1.1">
<rect x="877" y="792" width="608" height="144" fill="none"/>
<line x1="967" y1="792" x2="967" y2="936"/><line x1="1043" y1="792" x2="1043" y2="936"/><line x1="1117" y1="792" x2="1117" y2="936"/>
<line x1="1191" y1="792" x2="1191" y2="936"/><line x1="1265" y1="792" x2="1265" y2="936"/><line x1="1339" y1="792" x2="1339" y2="936"/><line x1="1413" y1="792" x2="1413" y2="936"/>
<path d="M877,808H1485M877,824H1485M877,840H1485M877,856H1485M877,872H1485M877,888H1485M877,904H1485M877,920H1485"/>
</g>
<g class="t">
<text x="922" y="803.5">尺寸 Dimensions</text><text x="1005" y="803.5">YGF42</text><text x="1080" y="803.5">YGF60</text><text x="1154" y="803.5">YGF90</text><text x="1228" y="803.5">YGF115</text><text x="1302" y="803.5">YGF142</text><text x="1376" y="803.5">YGF200</text><text x="1449" y="803.5">YGF255</text>
<text x="922" y="819.5">D1<tspan style="font-size:6px;"> H7</tspan></text><text x="1005" y="819.5">12</text><text x="1080" y="819.5">20</text><text x="1154" y="819.5">31.5</text><text x="1228" y="819.5">40</text><text x="1302" y="819.5">50</text><text x="1376" y="819.5">80</text><text x="1449" y="819.5">100</text>
<text x="922" y="835.5">D2</text><text x="1005" y="835.5">20</text><text x="1080" y="835.5">31.5</text><text x="1154" y="835.5">50</text><text x="1228" y="835.5">63</text><text x="1302" y="835.5">80</text><text x="1376" y="835.5">125</text><text x="1449" y="835.5">140</text>
<text x="922" y="851.5">D3<tspan style="font-size:6px;"> h7</tspan></text><text x="1005" y="851.5">28</text><text x="1080" y="851.5">40</text><text x="1154" y="851.5">63</text><text x="1228" y="851.5">80</text><text x="1302" y="851.5">100</text><text x="1376" y="851.5">160</text><text x="1449" y="851.5">180</text>
<text x="922" y="867.5">D4<tspan style="font-size:6px;"> h7</tspan></text><text x="1005" y="867.5">47</text><text x="1080" y="867.5">64</text><text x="1154" y="867.5">90</text><text x="1228" y="867.5">110</text><text x="1302" y="867.5">140</text><text x="1376" y="867.5">200</text><text x="1449" y="867.5">255</text>
<text x="922" y="883.5">D5</text><text x="1005" y="883.5">67</text><text x="1080" y="883.5">79</text><text x="1154" y="883.5">109</text><text x="1228" y="883.5">135</text><text x="1302" y="883.5">168</text><text x="1376" y="883.5">233</text><text x="1449" y="883.5">280</text>
<text x="922" y="899.5">D6</text><text x="1005" y="899.5">M3x0.5P</text><text x="1080" y="899.5">M5x0.8P</text><text x="1154" y="899.5">M6x1.0P</text><text x="1228" y="899.5">M6x1.0P</text><text x="1302" y="899.5">M8x1.25P</text><text x="1376" y="899.5">M10x1.5P</text><text x="1449" y="899.5">M16x2.0P</text>
<text x="922" y="915.5">D8<tspan style="font-size:6px;"> H7</tspan></text><text x="1005" y="915.5">3</text><text x="1080" y="915.5">5</text><text x="1154" y="915.5">6</text><text x="1228" y="915.5">6</text><text x="1302" y="915.5">8</text><text x="1376" y="915.5">10</text><text x="1449" y="915.5">12</text>
<text x="922" y="931.5">D9</text><text x="1005" y="931.5">3.4</text><text x="1080" y="931.5">4.5</text><text x="1154" y="931.5">5.5</text><text x="1228" y="931.5">5.5</text><text x="1302" y="931.5">6.6</text><text x="1376" y="931.5">9</text><text x="1449" y="931.5">13.5</text>
</g>
<line x1="937" y1="958.5" x2="1445" y2="958.5" stroke="#555" stroke-width="1.5"/>
<g style="font-size:7.8px;">
<text x="953" y="975">★ 本公司有權針對以上數據規格進行設計變更不先行告知.</text>
<text x="1189" y="975">★ Specification subject to change without notice.</text>
</g>
</svg>
</body></html>
